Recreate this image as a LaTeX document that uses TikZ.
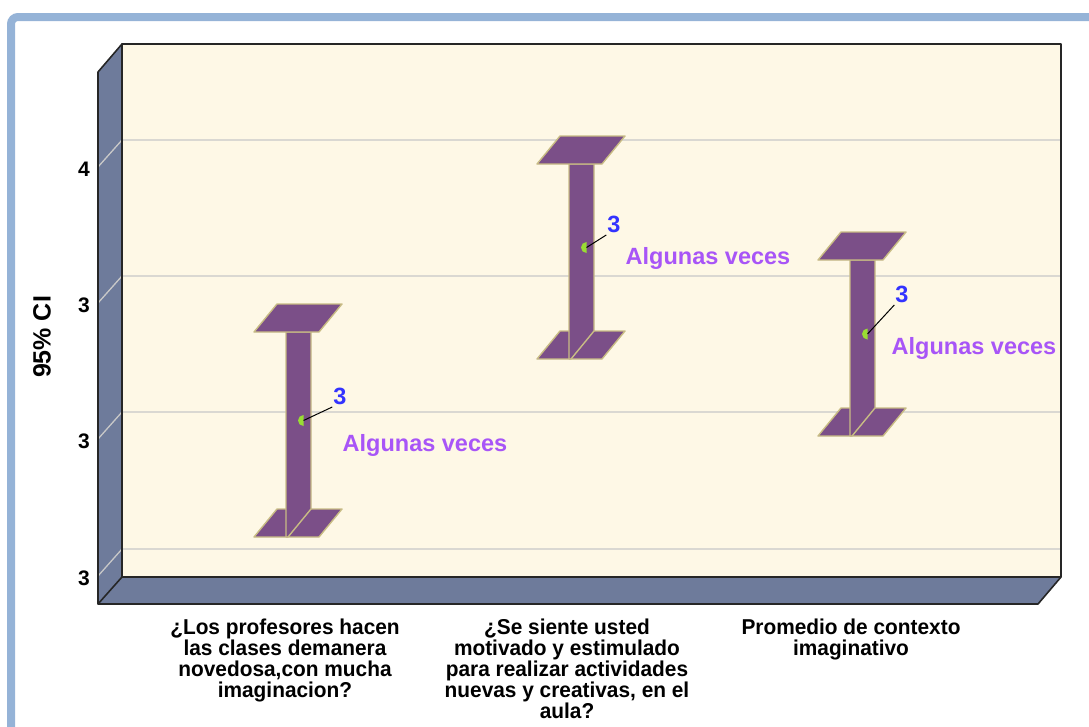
\documentclass[tikz,border=0pt]{standalone}
\usepackage{fontspec}
\setmainfont{Liberation Sans}
\newfontfamily\catfont[FakeStretch=0.97]{Liberation Sans}
\usetikzlibrary{calc}
\definecolor{framebl}{HTML}{95B3D7}
\definecolor{wallbg}{HTML}{FEF8E6}
\definecolor{sidebl}{HTML}{6E7B9B}
\definecolor{barpur}{HTML}{7B4F88}
\definecolor{bartan}{HTML}{C8BC84}
\definecolor{gridgr}{HTML}{C8C8C8}
\definecolor{lblpur}{HTML}{A855F7}
\definecolor{numbl}{HTML}{3333FF}
\definecolor{mkgrn}{HTML}{99DD33}

\begin{document}
\begin{tikzpicture}[x=1pt, y=-1pt,
    wallline/.style={black!85, line width=1.6pt, line join=round},
    barpart/.style={fill=barpur, draw=bartan, line width=1.4pt, line join=round},
    gridln/.style={gridgr, line width=1.3pt},
    ticklbl/.style={anchor=east, inner sep=0pt, font=\fontsize{21}{21}\selectfont\bfseries},
    numlbl/.style={inner sep=0pt, anchor=base, text=numbl, font=\fontsize{23.5}{23.5}\selectfont\bfseries},
    valuelbl/.style={inner sep=0pt, text=lblpur, font=\fontsize{23.5}{23.5}\selectfont\bfseries},
    catlbl/.style={anchor=north, inner sep=0pt, align=center, font=\catfont\fontsize{21.5}{21}\selectfont\bfseries},
    ]
\useasboundingbox (0,0) rectangle (1089,726);
\draw[framebl, line width=8pt, rounded corners=7pt] (11,17) rectangle (1120,760);

\fill[sidebl] (98,72) -- (122,44) -- (122,577) -- (98,604) -- cycle;
\fill[sidebl] (98,604) -- (122,577) -- (1061,577) -- (1038,604) -- cycle;
\fill[wallbg] (122,44) rectangle (1061,577);

\foreach \g/\t [count=\k] in {140/4, 276/3, 412/3, 549/3}{
    \draw[gridln] (98,\g+27) -- (122,\g) -- (1061,\g);
    \node[ticklbl] (tick\k) at (90,\g+29) {\t};
}

\draw[wallline] (122,44) rectangle (1061,577);
\draw[wallline] (122,44) -- (98,72) -- (98,604) -- (122,577);
\draw[wallline] (98,604) -- (1038,604) -- (1061,577);

\node[rotate=90, font=\fontsize{25}{25}\selectfont\bfseries] (ytitle) at (42,337) {95\% CI};

\foreach \L/\T/\B/\vx/\vy/\ax/\ay [count=\i] in
    {254/332/537/340/404/425/445, 537/164/359/614/232/708/258, 818/260/436/902/302/974/348}{
    \filldraw[barpart] (\L,\B) -- ++(65,0) -- ++(23,-28) -- ++(-65,0) -- cycle;
    \filldraw[barpart] (\L+32,\T) -- (\L+57,\T) -- (\L+57,\B-28) -- (\L+34,\B) -- (\L+32,\B) -- cycle;
    \filldraw[barpart] (\L,\T) -- ++(65,0) -- ++(23,-28) -- ++(-65,0) -- cycle;
    \coordinate (m\i) at (\L+49.5,{(\T+\B)/2-14});
    \fill[mkgrn] ($(m\i)+(0,-5.5)$) arc[start angle=90, end angle=270, radius=5.5pt] -- cycle;
    \node[numlbl] (v\i) at (\vx,\vy) {3};
    \draw[black, line width=1pt] (m\i) -- ($(v\i.base west)+(-1,3)$);
    \node[valuelbl] (a\i) at (\ax,\ay) {Algunas veces};
}

\node[catlbl] (c1) at (285,619) {¿Los profesores hacen\\las clases demanera\\novedosa,con mucha\\imaginacion?};
\node[catlbl] (c2) at (567,619) {¿Se siente usted\\motivado y estimulado\\para realizar actividades\\nuevas y creativas, en el\\aula?};
\node[catlbl] (c3) at (851,619) {Promedio de contexto\\imaginativo};
\end{tikzpicture}
\end{document}
